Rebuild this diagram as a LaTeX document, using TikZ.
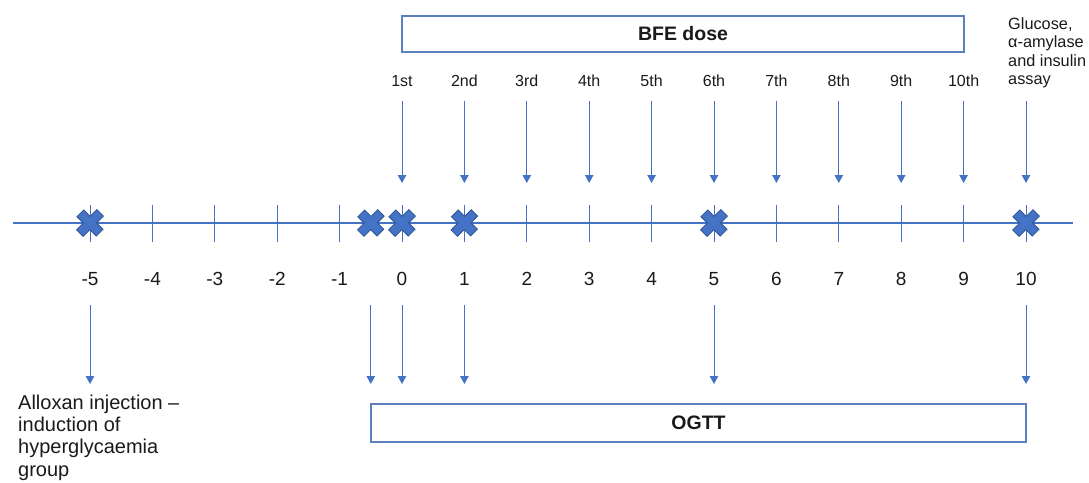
\documentclass[tikz,border=0pt]{standalone}
\usepackage{fontspec}
\setmainfont{Liberation Sans}
\usetikzlibrary{arrows.meta}

\definecolor{axisblue}{HTML}{4472C4}
\definecolor{crossedge}{HTML}{2F5597}
\definecolor{boxblue}{HTML}{5B7FBF}
\definecolor{ink}{HTML}{1A1A1A}

\tikzset{
  axis/.style={draw=axisblue, line width=1.1pt},
  tickmark/.style={draw=axisblue, line width=1pt},
  flow/.style={draw=axisblue, line width=1pt, -{Triangle[length=8pt,width=8.5pt]}},
  daylabel/.style={anchor=base, inner sep=0pt, text=ink, font=\fontsize{19}{22}\selectfont},
  doselabel/.style={anchor=base, inner sep=0pt, text=ink, font=\fontsize{16}{19}\selectfont},
  phasebox/.style={draw=boxblue, line width=1.3pt, fill=white, text=ink,
    font=\bfseries\fontsize{19.5}{22}\selectfont},
  note/.style={anchor=north west, align=left, inner sep=0pt, text=ink},
  xmark/.pic={
    \filldraw[fill=axisblue, draw=crossedge, line width=0.8pt, rotate=45, yscale=0.95]
      (4.8,4.8) -- (14.3,4.8) -- (14.3,-4.8) -- (4.8,-4.8) -- (4.8,-14.3) --
      (-4.8,-14.3) -- (-4.8,-4.8) -- (-14.3,-4.8) -- (-14.3,4.8) -- (-4.8,4.8) --
      (-4.8,14.3) -- (4.8,14.3) -- cycle;
  }
}

\begin{document}
\begin{tikzpicture}[x=1pt, y=-1pt]
\useasboundingbox (0,0) rectangle (1089,482);

% time axis
\coordinate (axisL) at (13,223);
\coordinate (axisR) at (1073,223);
\draw[axis] (axisL) -- (axisR);

% day ticks and day numbers (k = day + 5)
\foreach \k in {0,...,15} {
  \pgfmathsetmacro{\xx}{402+62.4*(\k-5)}
  \pgfmathtruncatemacro{\dd}{\k-5}
  \coordinate (tu\k) at (\xx,205);
  \coordinate (td\k) at (\xx,242);
  \draw[tickmark] (tu\k) -- (td\k);
  \node[daylabel] (day\k) at (\xx,285) {\dd};
}

% dose labels and dose arrows
\foreach \k/\lab in {5/1st,6/2nd,7/3rd,8/4th,9/5th,10/6th,11/7th,12/8th,13/9th,14/10th} {
  \pgfmathsetmacro{\xx}{402+62.4*(\k-5)}
  \node[doselabel] (dose\k) at (\xx,86) {\lab};
}
\foreach \k in {5,...,15} {
  \pgfmathsetmacro{\xx}{402+62.4*(\k-5)}
  \coordinate (as\k) at (\xx,101);
  \coordinate (ae\k) at (\xx,183);
  \draw[flow] (as\k) -- (ae\k);
}

% sampling arrows below the axis
\foreach \n/\xx in {a/90,b/370.8,c/402,d/464.4,e/714,f/1026} {
  \coordinate (bs\n) at (\xx,305);
  \coordinate (be\n) at (\xx,384);
  \draw[flow] (bs\n) -- (be\n);
}

% event markers on the axis
\foreach \xx in {90,370.8,402,464.4,714,1026} {
  \pic at (\xx,223) {xmark};
}

% phase boxes
\node[phasebox, minimum width=562pt, minimum height=36pt] (bfe) at (683,34) {BFE dose};
\node[phasebox, minimum width=655pt, minimum height=38pt] (ogtt) at (698.5,423) {OGTT};

% notes
\node[note, font=\fontsize{16.3}{18.6}\selectfont] (assay) at (1008,17)
  {Glucose,\\α-amylase\\and insulin\\assay};
\node[note, font=\fontsize{20}{22.3}\selectfont] (alloxan) at (18,394.5)
  {Alloxan injection –\\induction of\\hyperglycaemia\\group};
\end{tikzpicture}
\end{document}
